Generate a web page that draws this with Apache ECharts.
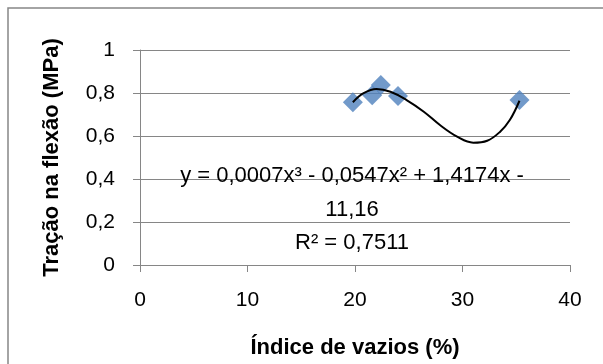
<!DOCTYPE html>
<html>
<head>
<meta charset="utf-8">
<script src="https://cdn.jsdelivr.net/npm/echarts@6/dist/echarts.min.js"></script>
<style>
  html, body { margin: 0; padding: 0; background: #fff; }
  #chart { width: 603px; height: 364px; }
</style>
</head>
<body>
<div id="chart"></div>
<script>
// pontos medidos (índice de vazios %, tração na flexão MPa)
const vazios = [19.8, 21.6, 22.4, 24.0, 35.3]
const tracao = [0.757, 0.79, 0.837, 0.786, 0.767]

// linha de tendência polinomial
const trendX = [19.8, 20.8, 22.0, 23.3, 24.8, 26.4, 27.9, 29.5, 31.0, 32.3, 33.5, 34.4, 35.3]
const trendY = [0.757, 0.799, 0.819, 0.806, 0.767, 0.713, 0.651, 0.597, 0.569, 0.578, 0.62, 0.674, 0.764]

const eqLines = ['y = 0,0007x³ - 0,0547x² + 1,4174x -', '11,16', 'R² = 0,7511']

const FONT = 'Liberation Sans'
const GRAY = '#868686'

let myChart = echarts.init(document.getElementById('chart'), null, { renderer: 'canvas' })

let option = {
  animation: false,
  textStyle: { fontFamily: FONT },
  grid: { left: 140, right: 33, top: 50, bottom: 99 },
  xAxis: {
    type: 'value',
    min: 0,
    max: 40,
    interval: 10,
    name: 'Índice de vazios (%)',
    nameLocation: 'middle',
    nameGap: 72,
    nameTextStyle: { fontSize: 22, fontWeight: 'bold', color: '#000', fontFamily: FONT },
    axisLine: { onZero: false, lineStyle: { color: GRAY, width: 1 } },
    axisTick: { show: true, length: 7, lineStyle: { color: GRAY } },
    axisLabel: { fontSize: 21, color: '#000', margin: 25, fontFamily: FONT },
    splitLine: { show: false }
  },
  yAxis: {
    type: 'value',
    min: 0,
    max: 1,
    interval: 0.2,
    name: 'Tração na flexão (MPa)',
    nameLocation: 'middle',
    nameGap: 77,
    nameTextStyle: { fontSize: 22, fontWeight: 'bold', color: '#000', fontFamily: FONT },
    axisLine: { show: true, lineStyle: { color: GRAY, width: 1 } },
    axisTick: { show: true, length: 7, lineStyle: { color: GRAY } },
    axisLabel: {
      fontSize: 21,
      color: '#000',
      margin: 25,
      fontFamily: FONT,
      formatter: function (v) {
        return String(Math.round(v * 10) / 10).replace('.', ',')
      }
    },
    splitLine: { show: true, lineStyle: { color: GRAY, width: 1 } }
  },
  graphic: [
    {
      type: 'rect',
      shape: { x: 8, y: 8, width: 620, height: 400 },
      style: { fill: 'none', stroke: GRAY, lineWidth: 1.5 },
      z: -1
    },
    {
      type: 'text',
      x: 303,
      y: -9,
      style: { text: '(a)', font: '18px ' + FONT, fill: '#000', align: 'center', verticalAlign: 'middle' }
    },
    {
      type: 'text',
      x: 352,
      y: 176,
      style: { text: eqLines[0], font: '22px ' + FONT, fill: '#000', align: 'center', verticalAlign: 'middle' },
      z: 10
    },
    {
      type: 'text',
      x: 352,
      y: 210,
      style: { text: eqLines[1], font: '22px ' + FONT, fill: '#000', align: 'center', verticalAlign: 'middle' },
      z: 10
    },
    {
      type: 'text',
      x: 352,
      y: 243,
      style: { text: eqLines[2], font: '22px ' + FONT, fill: '#000', align: 'center', verticalAlign: 'middle' },
      z: 10
    }
  ],
  series: [
    {
      name: 'Tração',
      type: 'scatter',
      symbol: 'diamond',
      symbolSize: 20,
      itemStyle: { color: '#4F81BD' },
      data: vazios.map((x, i) => [x, tracao[i]]),
      z: 2
    },
    {
      name: 'Tendência',
      type: 'line',
      smooth: 0.4,
      showSymbol: false,
      lineStyle: { color: '#000', width: 2 },
      data: trendX.map((x, i) => [x, trendY[i]]),
      z: 3
    }
  ]
}
myChart.setOption(option)
</script>
</body>
</html>
